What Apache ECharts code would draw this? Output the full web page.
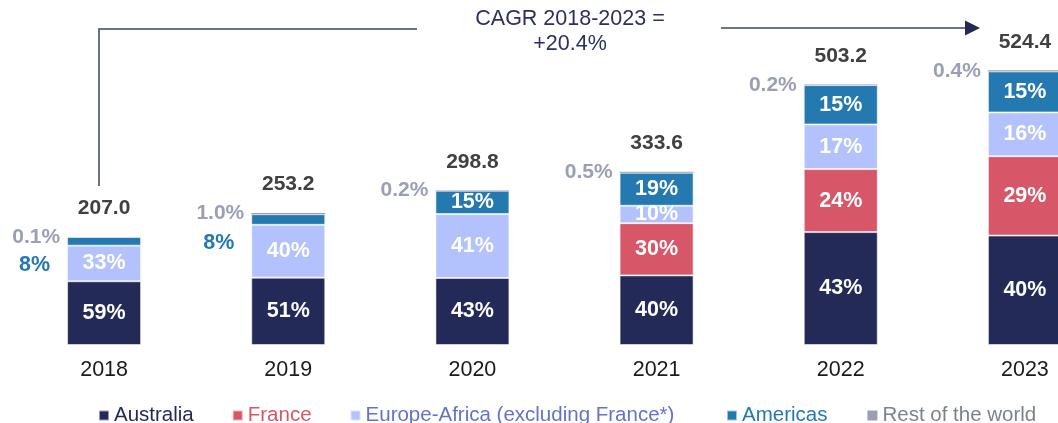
<!DOCTYPE html>
<html>
<head>
<meta charset="utf-8">
<script src="https://cdn.jsdelivr.net/npm/echarts@6/dist/echarts.min.js"></script>
<style>
  html, body { margin: 0; padding: 0; background: #fff; }
  #chart { width: 1058px; height: 423px; }
</style>
</head>
<body>
<div id="chart"></div>
<script>
// data
const years = ['2018', '2019', '2020', '2021', '2022', '2023']
const totals = [207.0, 253.2, 298.8, 333.6, 503.2, 524.4]
const australia = [59, 51, 43, 40, 43, 40] // % of total
const france = [0, 0, 0, 30, 24, 29]
const europeAfrica = [33, 40, 41, 10, 17, 16]
const americas = [8, 8, 15, 19, 15, 15]
const restOfWorld = [0.1, 1.0, 0.2, 0.5, 0.2, 0.4]

const FONT = '"Liberation Sans", Arial, sans-serif'
const colors = {
  aus: '#232a58',
  fra: '#d75667',
  eur: '#b3c2fd',
  ame: '#2479b0',
  row: '#9aa0b3',
}

// share (%) -> absolute value of the segment
const toData = (shares) =>
  shares.map((s, i) => (s ? +(totals[i] * s / 100).toFixed(2) : '-'))

const insideLabel = (shares) => ({
  show: true,
  position: 'inside',
  color: '#fff',
  fontFamily: FONT,
  fontWeight: 'bold',
  fontSize: 21.5,
  formatter: (p) => shares[p.dataIndex] + '%',
})

const barBase = {
  type: 'bar',
  stack: 'total',
  barWidth: 74,
  itemStyle: { borderColor: 'rgba(255,255,255,0.55)', borderWidth: 1 },
}

// Americas: small segments get their label outside, on the left
const americasData = toData(americas).map((v, i) => {
  if (americas[i] < 10) {
    return {
      value: v,
      label: {
        position: 'left',
        distance: 17,
        offset: [0, 24],
        color: colors.ame,
      },
    }
  }
  return v
})

const series = [
  { ...barBase, name: 'Australia', data: toData(australia), itemStyle: { ...barBase.itemStyle, color: colors.aus }, label: insideLabel(australia) },
  { ...barBase, name: 'France', data: toData(france), itemStyle: { ...barBase.itemStyle, color: colors.fra }, label: insideLabel(france) },
  { ...barBase, name: 'Europe-Africa (excluding France*)', data: toData(europeAfrica), itemStyle: { ...barBase.itemStyle, color: colors.eur }, label: insideLabel(europeAfrica) },
  { ...barBase, name: 'Americas', data: americasData, itemStyle: { ...barBase.itemStyle, color: colors.ame }, label: insideLabel(americas) },
  {
    ...barBase,
    name: 'Rest of the world',
    data: toData(restOfWorld),
    itemStyle: { color: colors.row, borderWidth: 0 },
    label: {
      show: true,
      position: 'left',
      distance: 7,
      color: colors.row,
      fontFamily: FONT,
      fontWeight: 'bold',
      fontSize: 21,
      formatter: (p) => restOfWorld[p.dataIndex].toFixed(1) + '%',
    },
  },
  {
    // zero-height bar on top of each stack carrying the total
    type: 'bar',
    stack: 'total',
    barWidth: 74,
    name: 'total',
    silent: true,
    data: totals.map(() => 0),
    itemStyle: { color: 'transparent' },
    label: {
      show: true,
      position: 'top',
      distance: 18,
      color: '#404040',
      fontFamily: FONT,
      fontWeight: 'bold',
      fontSize: 21,
      formatter: (p) => totals[p.dataIndex].toFixed(1),
    },
  },
]

const legendBase = {
  top: 400,
  icon: 'rect',
  itemWidth: 10,
  itemHeight: 10,
  itemGap: 38,
  textStyle: { fontFamily: FONT, fontSize: 20.5 },
  selectedMode: false,
}

const lineColor = '#3b4266'

const option = {
  animation: false,
  grid: { left: 12, right: -59, top: 33, bottom: 78, outerBoundsMode: 'none' },
  xAxis: {
    type: 'category',
    data: years,
    axisLine: { show: false },
    axisTick: { show: false },
    axisLabel: { color: '#1a1a1a', fontFamily: FONT, fontSize: 21.5, margin: 14 },
  },
  yAxis: { type: 'value', min: 0, max: 598, show: false },
  legend: [
    {
      ...legendBase,
      left: 93,
      data: [
        { name: 'Australia', textStyle: { color: colors.aus } },
        { name: 'France', textStyle: { color: colors.fra } },
        { name: 'Europe-Africa (excluding France*)', textStyle: { color: '#6473c9' } },
      ],
    },
    {
      ...legendBase,
      left: 721,
      itemGap: 40,
      data: [
        { name: 'Americas', textStyle: { color: colors.ame } },
        { name: 'Rest of the world', textStyle: { color: '#7b8192' } },
      ],
    },
  ],
  series,
  graphic: [
    {
      type: 'polyline',
      shape: { points: [[99, 186], [99, 29], [417, 29]] },
      style: { stroke: lineColor, lineWidth: 1.5, fill: null },
    },
    {
      type: 'text',
      x: 570,
      y: 7,
      style: {
        text: 'CAGR 2018-2023 =\n+20.4%',
        fill: '#2a3060',
        font: '21.5px ' + FONT,
        align: 'center',
        lineHeight: 25,
      },
    },
    {
      type: 'line',
      shape: { x1: 721, y1: 28, x2: 966, y2: 28 },
      style: { stroke: lineColor, lineWidth: 1.5 },
    },
    {
      type: 'polygon',
      shape: { points: [[965, 20.5], [980, 28], [965, 35.5]] },
      style: { fill: '#232a58' },
    },
  ],
}

const chart = echarts.init(document.getElementById('chart'))
chart.setOption(option)
</script>
</body>
</html>
